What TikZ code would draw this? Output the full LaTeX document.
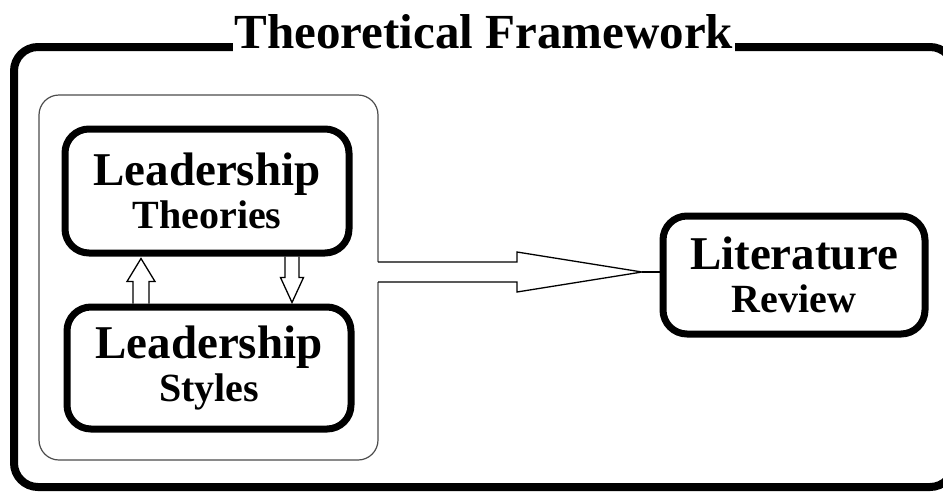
\documentclass[tikz,border=0pt]{standalone}
\usepackage{fontspec}
\setmainfont{Liberation Serif}
\usetikzlibrary{calc}

\tikzset{
  topic/.style={draw, line width=7pt, rounded corners=24pt, align=center, inner sep=0pt,
    font=\fontsize{47}{43}\selectfont\bfseries},
  frameline/.style={line width=1.2pt, draw=black!70},
  blockarrow/.style={line width=1.3pt, line join=miter},
}

% hollow block arrow: from, to, shaft half width, head half width, head length
\newcommand\hollowarrow[5]{%
  \coordinate (ahead) at ($(#2)!#5!(#1)$);
  \draw[blockarrow] ($(#1)!#3!90:(#2)$) -- ($(ahead)!#3!90:(#2)$) -- ($(ahead)!#4!90:(#2)$)
    -- (#2) -- ($(ahead)!#4!-90:(#2)$) -- ($(ahead)!#3!-90:(#2)$) -- ($(#1)!#3!-90:(#2)$);
}

\newcommand\smallline{\fontsize{40}{43}\selectfont\bfseries}

\begin{document}
\begin{tikzpicture}[x=1pt,y=-1pt]
    \clip (0,0) rectangle (943,491);

    % outer frame and its title
    \draw[line width=8pt, rounded corners=24pt] (14,47) rectangle (954,487);
    \node[fill=white, inner xsep=2pt, inner ysep=5pt, anchor=base, font=\fontsize{49}{49}\selectfont\bfseries] (title) at (484,48) {Theoretical Framework};

    % inner frame, open on the right for the arrow
    \draw[frameline, rounded corners=20pt] (378,262) -- (378,95) -- (39,95) -- (39,460) -- (378,460) -- (378,282);

    \node[topic, minimum width=284pt, minimum height=124pt] (theo) at (207,191) {Leadership\\\smallline Theories};
    \node[topic, minimum width=284pt, minimum height=122pt] (sty) at (209,368) {Leadership\\\smallline Styles};
    \node[topic, minimum width=262pt, minimum height=118pt] (lit) at (794,275) {Literature\\\smallline Review};

    % arrows between the two boxes
    \coordinate (upfoot) at ($(sty.north)+(-68,0)$);
    \coordinate (uptip) at ($(theo.south)+(-66,2)$);
    \hollowarrow{upfoot}{uptip}{8pt}{14pt}{23pt}
    \coordinate (downfoot) at ($(theo.south)+(85,0)$);
    \coordinate (downtip) at ($(sty.north)+(83,-1)$);
    \hollowarrow{downfoot}{downtip}{7pt}{11.5pt}{25pt}

    % big arrow to the literature review
    \coordinate (gap) at (378,272);
    \coordinate (tip) at (642,272);
    \hollowarrow{gap}{tip}{10pt}{20pt}{125pt}
    \draw[line width=2.5pt] (tip) -- (tip -| lit.west);
\end{tikzpicture}
\end{document}
